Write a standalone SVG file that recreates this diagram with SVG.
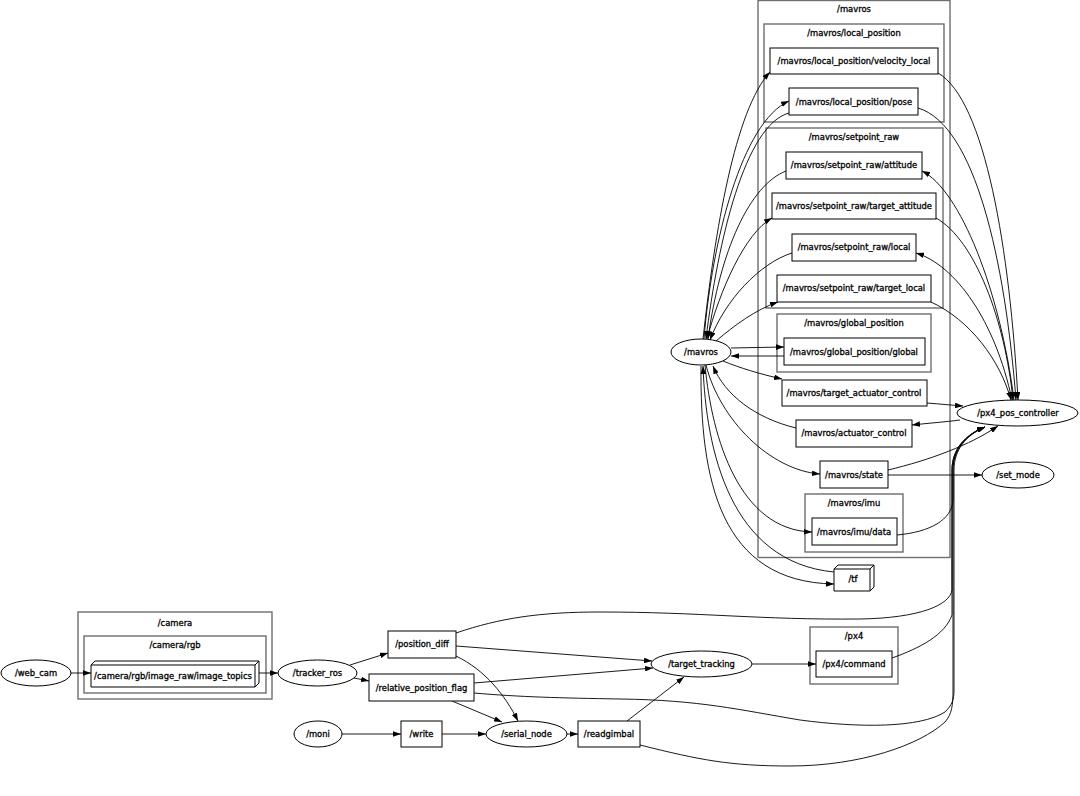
<svg xmlns="http://www.w3.org/2000/svg" width="1080" height="796" viewBox="0 0 1080 796">
<defs>
<marker id="ah" viewBox="0 0 10 7" refX="10" refY="3.5" markerWidth="8" markerHeight="5.6" orient="auto" markerUnits="userSpaceOnUse">
<path d="M0,0 L10,3.5 L0,7 z" fill="#000"/>
</marker>
<style>
text{font-family:"DejaVu Sans","Liberation Sans",sans-serif;font-size:8.4px;fill:#000;stroke:#000;stroke-width:0.3;text-anchor:middle;dominant-baseline:central}
.cl{fill:none;stroke:#6e6e6e;stroke-width:1.4}
.nd{fill:#fff;stroke:#000;stroke-width:1}
.e{fill:none;stroke:#000;stroke-width:0.9}
.ea{fill:none;stroke:#000;stroke-width:0.9;marker-end:url(#ah)}
</style>
</defs>
<rect width="1080" height="796" fill="#fff"/>

<g id="clusters">
<g id="cl_mavros"><rect class="cl" x="758" y="0.5" width="192" height="557"/><text x="854" y="9">/mavros</text></g>
<g id="cl_local_position"><rect class="cl" x="764" y="24" width="180" height="98"/><text x="854" y="33">/mavros/local_position</text></g>
<g id="cl_setpoint_raw"><rect class="cl" x="766" y="128" width="177" height="180"/><text x="854" y="137">/mavros/setpoint_raw</text></g>
<g id="cl_global_position"><rect class="cl" x="777" y="314" width="154" height="58"/><text x="854" y="323">/mavros/global_position</text></g>
<g id="cl_imu"><rect class="cl" x="805" y="494" width="98" height="58"/><text x="854" y="503">/mavros/imu</text></g>
<g id="cl_camera"><rect class="cl" x="78" y="612" width="194" height="87"/><text x="175" y="623">/camera</text></g>
<g id="cl_camera_rgb"><rect class="cl" x="84" y="636" width="182" height="57"/><text x="175" y="645">/camera/rgb</text></g>
<g id="cl_px4"><rect class="cl" x="810" y="627" width="88" height="57"/><text x="854" y="636">/px4</text></g>
</g>

<g id="connectors">
<path class="ea" d="M703,339 C715,230 735,110 770,72"/>
<path class="ea" d="M704,339 C712,240 742,122 789,101"/>
<path class="ea" d="M789,113 C745,125 718,240 706,339"/>
<path class="ea" d="M786,171 C750,185 720,250 708,339"/>
<path class="ea" d="M707,339 C720,290 745,233 772,218"/>
<path class="ea" d="M792,253 C760,263 725,300 710,340"/>
<path class="ea" d="M716,341 C735,325 755,310 778,302"/>
<path class="ea" d="M731,348 L784,347"/>
<path class="ea" d="M784,356 L731,356"/>
<path class="ea" d="M723,361 C740,368 760,374 782,379"/>
<path class="ea" d="M796,428 C755,418 725,395 713,366"/>
<path class="ea" d="M706,365 C720,420 770,470 820,474"/>
<path class="ea" d="M705,365 C712,440 740,530 812,532"/>
<path class="ea" d="M834,572 C730,562 706,450 703,366"/>
<path class="ea" d="M701,366 C700,480 720,582 834,584"/>
<path class="ea" d="M938,73 C985,100 1010,250 1018,400"/>
<path class="ea" d="M918,108 C975,125 1005,260 1016,400"/>
<path class="ea" d="M1014,400 C1000,290 960,190 922,171"/>
<path class="ea" d="M936,218 C975,240 1005,320 1013,400"/>
<path class="ea" d="M1012,400 C995,320 955,265 916,253"/>
<path class="ea" d="M931,302 C970,320 1000,360 1011,400"/>
<path class="ea" d="M927,403 C940,404 950,405 963,406"/>
<path class="ea" d="M960,420 C945,422 930,423 912,425"/>
<path class="ea" d="M888,470 C930,460 970,445 998,426"/>
<path class="ea" d="M888,475 L982,475"/>
<path class="ea" d="M897,535 C930,532 952,520 953,500 L953,470 C953,450 965,435 985,427"/>
<path class="ea" d="M456,633 C500,618 540,612 600,612 C700,612 760,620 860,619 C920,618 950,605 952,590 L952,470 C952,450 964,435 985,427"/>
<path class="ea" d="M474,693 C520,697 560,698 620,699 C700,700 740,710 800,720 C860,728 920,728 945,712 C952,705 954,700 954,690 L954,470 C954,450 966,435 985,427"/>
<path class="ea" d="M640,745 C700,760 730,766 790,766 C860,766 920,745 945,722 C952,714 953,705 953,690 L953,470 C953,450 965,435 985,427"/>
<path class="ea" d="M892,658 C920,648 945,635 952,615 L952,470 C952,450 965,435 985,427"/>
<path class="ea" d="M71,673 L91,673"/>
<path class="ea" d="M259,673 L278,673"/>
<path class="ea" d="M350,665 L388,653"/>
<path class="ea" d="M354,678 L369,681"/>
<path class="ea" d="M456,646 L652,661"/>
<path class="ea" d="M474,683 L653,668"/>
<path class="ea" d="M456,656 C485,670 505,695 518,721"/>
<path class="ea" d="M452,701 L502,722"/>
<path class="ea" d="M342,734 L401,734"/>
<path class="ea" d="M442,734 L486,734"/>
<path class="ea" d="M567,734 L578,734"/>
<path class="ea" d="M627,721 L684,677"/>
<path class="ea" d="M752,664 L816,664"/>
</g>

<g id="nodes">
<g id="n_velocity_local"><rect class="nd" x="770" y="48" width="168" height="26"/><text x="854" y="61">/mavros/local_position/velocity_local</text></g>
<g id="n_pose"><rect class="nd" x="789" y="88" width="129" height="27"/><text x="854" y="102">/mavros/local_position/pose</text></g>
<g id="n_attitude"><rect class="nd" x="786" y="152" width="136" height="27"/><text x="854" y="165">/mavros/setpoint_raw/attitude</text></g>
<g id="n_target_attitude"><rect class="nd" x="772" y="193" width="164" height="26"/><text x="854" y="206">/mavros/setpoint_raw/target_attitude</text></g>
<g id="n_local"><rect class="nd" x="792" y="234" width="124" height="27"/><text x="854" y="247">/mavros/setpoint_raw/local</text></g>
<g id="n_target_local"><rect class="nd" x="777" y="275" width="154" height="27"/><text x="854" y="288">/mavros/setpoint_raw/target_local</text></g>
<g id="n_global"><rect class="nd" x="784" y="338" width="141" height="27"/><text x="854" y="352">/mavros/global_position/global</text></g>
<g id="n_mavros"><ellipse class="nd" cx="701" cy="352" rx="30" ry="13"/><text x="701" y="352">/mavros</text></g>
<g id="n_target_actuator_control"><rect class="nd" x="782" y="380" width="145" height="26"/><text x="854" y="393">/mavros/target_actuator_control</text></g>
<g id="n_actuator_control"><rect class="nd" x="796" y="420" width="116" height="27"/><text x="854" y="433">/mavros/actuator_control</text></g>
<g id="n_state"><rect class="nd" x="820" y="461" width="68" height="27"/><text x="854" y="475">/mavros/state</text></g>
<g id="n_imu_data"><rect class="nd" x="812" y="518" width="85" height="27"/><text x="854" y="532">/mavros/imu/data</text></g>
<g id="n_tf"><path class="nd" d="M834,569 L838,565 L874,565 L874,587 L870,591 L834,591 Z M834,569 L870,569 L870,591 M870,569 L874,565"/><text x="853" y="579">/tf</text></g>
<g id="n_px4_pos_controller"><ellipse class="nd" cx="1017.5" cy="413" rx="60.5" ry="13"/><text x="1018" y="413">/px4_pos_controller</text></g>
<g id="n_set_mode"><ellipse class="nd" cx="1018" cy="475" rx="36" ry="13"/><text x="1018" y="475">/set_mode</text></g>
<g id="n_web_cam"><ellipse class="nd" cx="36" cy="673" rx="35" ry="13"/><text x="36" y="673">/web_cam</text></g>
<g id="n_image_topics"><path class="nd" d="M91,665 L95,661 L259,661 L259,683 L255,687 L91,687 Z M91,665 L255,665 L255,687 M255,665 L259,661"/><text x="173" y="676">/camera/rgb/image_raw/image_topics</text></g>
<g id="n_tracker_ros"><ellipse class="nd" cx="317.5" cy="673" rx="39.5" ry="13"/><text x="317.5" y="673">/tracker_ros</text></g>
<g id="n_position_diff"><rect class="nd" x="388" y="631" width="68" height="27"/><text x="422" y="644">/position_diff</text></g>
<g id="n_relative_position_flag"><rect class="nd" x="369" y="674" width="105" height="27"/><text x="421.5" y="688">/relative_position_flag</text></g>
<g id="n_moni"><ellipse class="nd" cx="318" cy="734" rx="24" ry="13"/><text x="318" y="734">/moni</text></g>
<g id="n_write"><rect class="nd" x="401" y="721" width="41" height="26"/><text x="421.5" y="734">/write</text></g>
<g id="n_serial_node"><ellipse class="nd" cx="526.5" cy="734" rx="40.5" ry="13"/><text x="526.5" y="734">/serial_node</text></g>
<g id="n_readgimbal"><rect class="nd" x="578" y="721" width="62" height="26"/><text x="609" y="734">/readgimbal</text></g>
<g id="n_target_tracking"><ellipse class="nd" cx="701.5" cy="664" rx="50.5" ry="13"/><text x="701.5" y="664">/target_tracking</text></g>
<g id="n_px4_command"><rect class="nd" x="816" y="651" width="76" height="26"/><text x="854" y="664">/px4/command</text></g>
</g>
</svg>
